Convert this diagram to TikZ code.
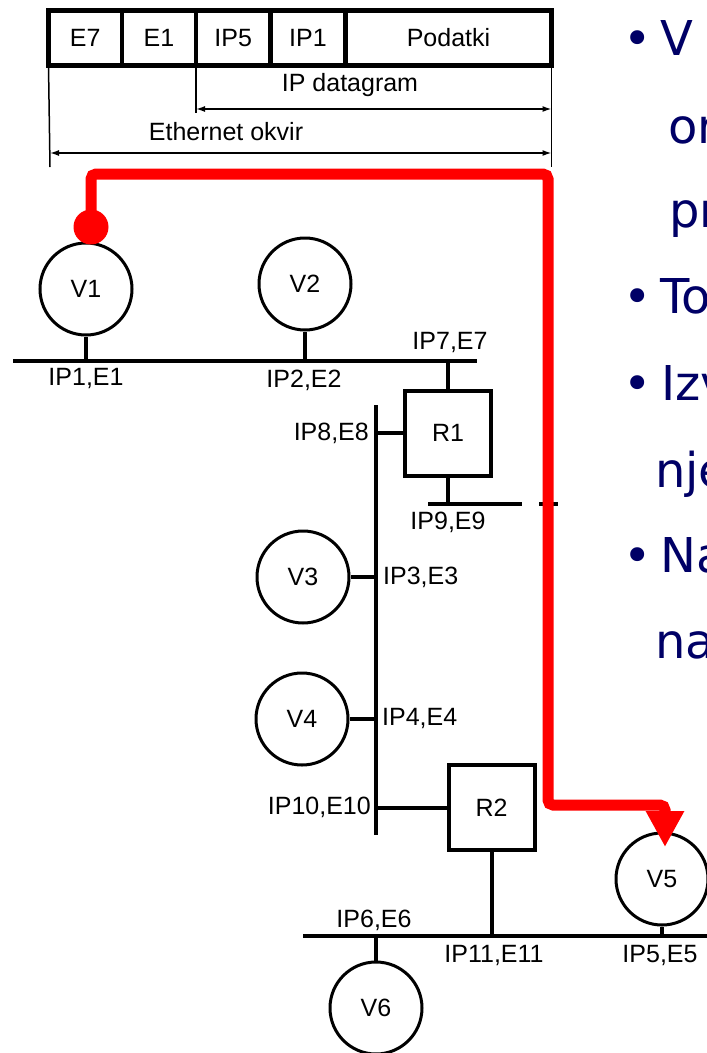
\documentclass[tikz,border=0pt]{standalone}
\usepackage{fontspec}
\setmainfont{Liberation Sans}
\newfontfamily\slidefont{DejaVu Sans}
\usepackage{xcolor}
\usepackage{tikz}
\usetikzlibrary{arrows.meta,positioning}
\definecolor{slidenavy}{RGB}{0,0,102}
\definecolor{routered}{RGB}{255,0,0}

\begin{document}
\begin{tikzpicture}[
    x=1pt, y=-1pt,
    lbl/.style={font=\fontsize{25}{29}\selectfont, inner sep=0pt},
    cell/.style={
      draw, line width=4.5pt, outer sep=0pt, inner sep=0pt,
      minimum height=55pt, font=\fontsize{25}{29}\selectfont
    },
    host/.style={
      draw, circle, line width=3pt, minimum size=92pt, inner sep=0pt,
      font=\fontsize{25}{29}\selectfont
    },
    router/.style={
      draw, rectangle, line width=4pt, minimum width=86pt, minimum height=85pt,
      inner sep=0pt, font=\fontsize{25}{29}\selectfont
    },
    bus/.style={line width=4.5pt},
    stub/.style={line width=4pt},
    dimfoot/.style={line width=1.5pt},
    dim/.style={line width=1.5pt,{Latex[length=9pt,width=6pt]}-{Latex[length=9pt,width=6pt]}},
    route/.style={draw=routered, line width=11pt, rounded corners=5pt},
    slide/.style={font=\slidefont\fontsize{48}{56}\selectfont, text=slidenavy, inner sep=0pt, anchor=base west},
    dot/.style={font=\slidefont\fontsize{48}{56}\selectfont, text=slidenavy, inner sep=0pt, anchor=base}
  ]
    \useasboundingbox (0,0) rectangle (707,1053);
    \clip (0,0) rectangle (707,1053);
    \fill[white] (0,0) rectangle (707,1053);

    % frame
    \node[cell, minimum width=73.5pt] (cE7) at (85.25,38) {E7};
    \node[cell, minimum width=74pt, right=0pt of cE7] (cE1) {E1};
    \node[cell, minimum width=74.5pt, right=0pt of cE1] (cIP5) {IP5};
    \node[cell, minimum width=75pt, right=0pt of cIP5] (cIP1) {IP1};
    \node[cell, minimum width=206pt, right=0pt of cIP1] (cdata) {Podatki};

    \coordinate (dgfoot) at (196,113);
    \coordinate (ethfootL) at (50,167);
    \coordinate (ethfootR) at (551.5,167);
    \coordinate (dgL) at (196,109);
    \coordinate (dgR) at (551.5,109);
    \coordinate (ethL) at (50,153);
    \coordinate (ethR) at (551.5,153);
    \draw[dimfoot] (cIP5.south west) -- (dgfoot);
    \draw[dimfoot] (cE7.south west) -- (ethfootL);
    \draw[dimfoot] (cdata.south east) -- (ethfootR);
    \draw[dim] (dgL) -- (dgR);
    \draw[dim] (ethL) -- (ethR);
    \node[lbl] (dglbl) at (350,85) {IP datagram};
    \node[lbl] (ethlbl) at (226,132) {Ethernet okvir};

    % hosts and routers
    \node[host] (v1) at (86,289) {V1};
    \node[host] (v2) at (305,284) {V2};
    \node[host] (v3) at (303,577) {V3};
    \node[host] (v4) at (302,719) {V4};
    \node[host] (v5) at (662,879) {V5};
    \node[host] (v6) at (376,1008) {V6};
    \node[router] (r1) at (448,433) {R1};
    \node[router] (r2) at (491.5,807.5) {R2};

    % buses
    \coordinate (b1w) at (13,361);
    \coordinate (b1e) at (477,361);
    \coordinate (b2n) at (376,405);
    \coordinate (b2s) at (376,835);
    \coordinate (b3w) at (428,504);
    \coordinate (b3e) at (522,504);
    \coordinate (b3tw) at (539,504);
    \coordinate (b3te) at (558,504);
    \coordinate (b4w) at (303,936);
    \coordinate (b4e) at (707,936);
    \draw[bus] (b1w) -- (b1e);
    \draw[bus] (b2n) -- (b2s);
    \draw[bus] (b3w) -- (b3e);
    \draw[stub] (b3tw) -- (b3te);
    \draw[bus] (b4w) -- (b4e);

    \draw[stub] (v1) -- (v1 |- b1w);
    \draw[stub] (v2) -- (v2 |- b1w);
    \draw[stub] (r1) -- (r1 |- b1w);
    \draw[stub] (r1) -- (r1 -| b2n);
    \draw[stub] (r1) -- (r1 |- b3w);
    \draw[stub] (v3) -- (v3 -| b2n);
    \draw[stub] (v4) -- (v4 -| b2n);
    \draw[stub] (r2) -- (r2 -| b2n);
    \draw[stub] (r2) -- (r2 |- b4w);
    \draw[stub] (v5) -- (v5 |- b4w);
    \draw[stub] (v6) -- (v6 |- b4w);

    % addresses
    \node[lbl] (a1) at (86,378) {IP1,E1};
    \node[lbl] (a2) at (304,380) {IP2,E2};
    \node[lbl] (a7) at (450,342) {IP7,E7};
    \node[lbl, anchor=east] (a8) at (369,433) {IP8,E8};
    \node[lbl] (a9) at (448,522) {IP9,E9};
    \node[lbl, anchor=west] (a3) at (383,577) {IP3,E3};
    \node[lbl, anchor=west] (a4) at (382,718) {IP4,E4};
    \node[lbl, anchor=east] (a10) at (371,807) {IP10,E10};
    \node[lbl] (a6) at (374,920) {IP6,E6};
    \node[lbl] (a11) at (494,955) {IP11,E11};
    \node[lbl] (a5) at (660,955) {IP5,E5};

    % route of the packet
    \node[circle, fill=routered, minimum size=35pt, inner sep=0pt] (src) at (91,227) {};
    \coordinate (rtop) at (548,174);
    \coordinate (rbend) at (665,805);
    \coordinate (rtip) at (665,847);
    \draw[route, -{Triangle[length=36pt,width=36pt]}] (src.center) |- (rtop) |- (rbend) -- (rtip);

    % slide text
    \node[dot] (d1) at (638,55) {•};
    \node[slide] (t1) at (660,55) {V};
    \node[slide] (t2) at (668,143) {or};
    \node[slide] (t3) at (669,227) {pr};
    \node[dot] (d4) at (638,313) {•};
    \node[slide] (t4) at (660,313) {To};
    \node[dot] (d5) at (638,400) {•};
    \node[slide] (t5) at (661,400) {Izv};
    \node[slide] (t6) at (655,487) {nje};
    \node[dot] (d7) at (638,572) {•};
    \node[slide] (t7) at (660,572) {Na};
    \node[slide] (t8) at (655,658) {na};
  \end{tikzpicture}
\end{document}
